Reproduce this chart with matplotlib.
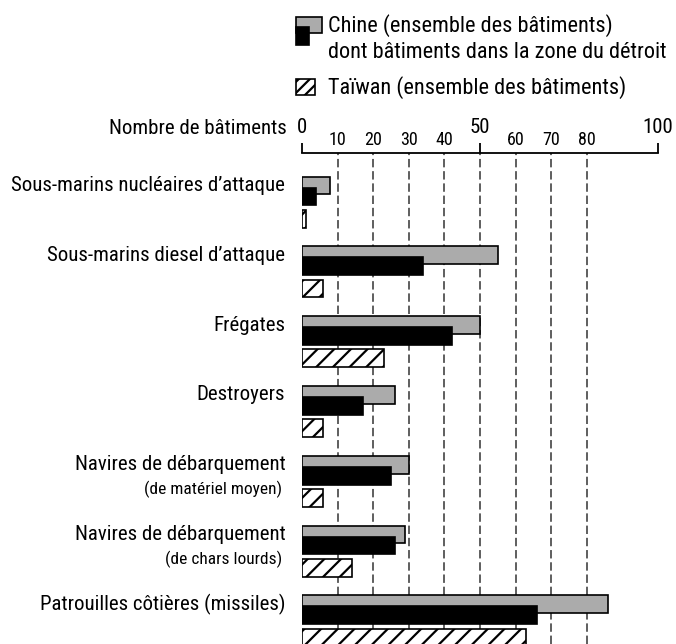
import numpy as np
import matplotlib
matplotlib.use("Agg")
import matplotlib.pyplot as plt
from matplotlib.patches import Rectangle

plt.rcParams['font.family'] = ['Roboto Condensed', 'Roboto', 'DejaVu Sans']
plt.rcParams['hatch.linewidth'] = 1.6

categories = ["Sous-marins nucléaires d\u2019attaque", "Sous-marins diesel d\u2019attaque",
              "Frégates", "Destroyers", "Navires de débarquement",
              "Navires de débarquement", "Patrouilles côtières (missiles)"]
subtitles = ["", "", "", "", "(de matériel moyen)", "(de chars lourds)", ""]
chine_total = [8, 55, 50, 26, 30, 29, 86]
chine_detroit = [4, 34, 42, 17, 25, 26, 66]
taiwan_total = [1, 6, 23, 6, 6, 14, 63]

big_ticks = [0, 50, 100]
small_ticks = [10, 20, 30, 40, 60, 70, 80]

W, H = 676, 644
fig = plt.figure(figsize=(W / 100, H / 100), dpi=100)

# axes: x 0..100 -> px 302..658, top spine at px 153
ax = fig.add_axes([302 / W, 0, 356 / W, (H - 153) / H])
step = 69.8  # px per group
y0 = 185.5   # px centre of first grey bar
ax.set_ylim((H - y0) / step, (153 - y0) / step)
ax.set_xlim(0, 100)

y = np.arange(len(categories))
h = 0.255
ax.barh(y, chine_total, height=h, color='#ababab', edgecolor='black', lw=1.2, zorder=3)
ax.barh(y + 0.158, chine_detroit, height=h, color='black', edgecolor='black', lw=1.2, zorder=4)
ax.barh(y + 0.476, taiwan_total, height=h, color='white', edgecolor='black', lw=1.2,
        hatch='//', zorder=3)

for g in small_ticks + [50]:
    ax.axvline(g, color='#333333', lw=1.1, ls=(0, (5.5, 2.5)), zorder=1)

for s in ['left', 'right', 'bottom']:
    ax.spines[s].set_visible(False)
ax.spines['top'].set_linewidth(1.3)
ax.xaxis.tick_top()
ax.set_xticks(big_ticks)
ax.set_xticklabels([str(t) for t in big_ticks], fontsize=15)
ax.set_xticks(small_ticks, minor=True)
ax.set_xticklabels([str(t) for t in small_ticks], minor=True, fontsize=13)
ax.tick_params(axis='x', which='major', direction='out', length=7.2, width=1.3, pad=4)
ax.tick_params(axis='x', which='minor', length=0, pad=2.8)
ax.set_yticks([])

for i, (c, s) in enumerate(zip(categories, subtitles)):
    ax.annotate(c, xy=(0, i), xytext=(-12, 0), textcoords='offset points',
                ha='right', va='center', fontsize=15, annotation_clip=False)
    if s:
        ax.annotate(s, xy=(0, i), xytext=(-14, -18), textcoords='offset points',
                    ha='right', va='center', fontsize=12.5, annotation_clip=False)

fig.text(287 / W, 1 - 129 / H, "Nombre de bâtiments", ha='right', va='center', fontsize=15)

# legend
def px_rect(x0, y_top, x1, y_bot, **kw):
    fig.add_artist(Rectangle((x0 / W, 1 - y_bot / H), (x1 - x0) / W, (y_bot - y_top) / H,
                             transform=fig.transFigure, **kw))

px_rect(296, 17, 322, 33, facecolor='#ababab', edgecolor='black', lw=1.2)
px_rect(296, 27, 309, 45, facecolor='black', edgecolor='black', lw=1.2)
px_rect(296, 79, 315, 95, facecolor='white', edgecolor='black', lw=1.2, hatch='///')
fig.text(328 / W, 1 - 26 / H, "Chine (ensemble des bâtiments)", va='center', fontsize=16)
fig.text(328 / W, 1 - 53 / H, "dont bâtiments dans la zone du détroit", va='center', fontsize=16)
fig.text(328 / W, 1 - 88 / H, "Taïwan (ensemble des bâtiments)", va='center', fontsize=16)

fig.savefig("out.png", dpi=100)
